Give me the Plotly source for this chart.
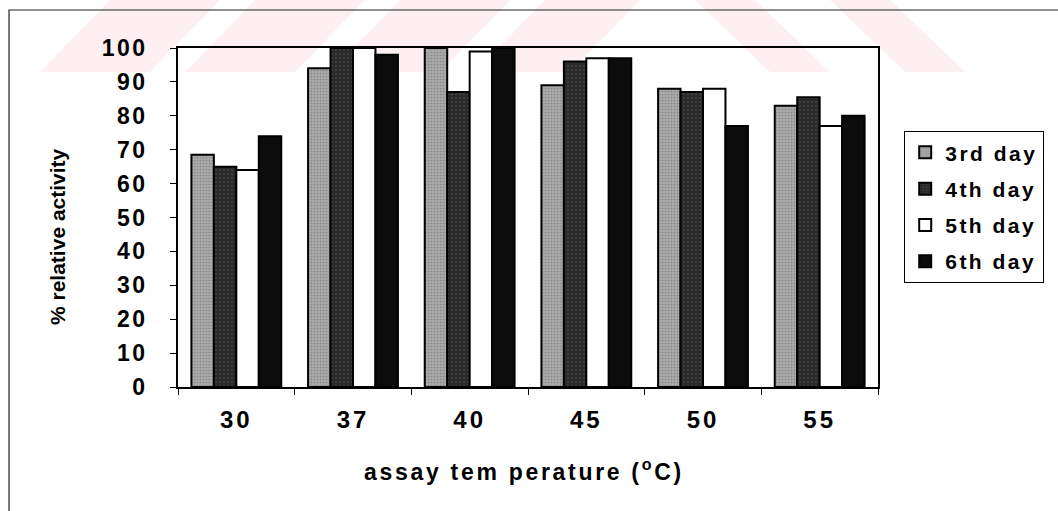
import plotly.graph_objects as go

# assay temperatures (°C) and % relative activity per harvest day
temperatures = ["30", "37", "40", "45", "50", "55"]
day3 = [68.5, 94, 100, 89, 88, 83]
day4 = [65, 100, 87, 96, 87, 85.5]
day5 = [64, 100, 99, 97, 88, 77]
day6 = [74, 98, 100, 97, 77, 80]
series_names = ["3rd day", "4th day", "5th day", "6th day"]
y_ticks = [0, 10, 20, 30, 40, 50, 60, 70, 80, 90, 100]
x_title = "assay tem perature (<sup>o</sup>C)"
y_title = "% relative activity"

W, H = 1058, 511
L, R, T, B = 178, 878, 48, 387  # plot area in pixels

def px(x):
    return (x - L) / (R - L)

def py(y):
    return (B - y) / (B - T)

def spaced(text, gap):
    return f'<span style="letter-spacing:{gap}px">{text}</span>'

FONT = "Liberation Sans, Arial, sans-serif"

styles = [
    dict(color="#a9a9a9", pattern=dict(shape=".", fgcolor="#666666", size=3, solidity=0.25)),
    dict(color="#2a2a2a", pattern=dict(shape=".", fgcolor="#777777", size=4, solidity=0.15)),
    dict(color="#ffffff"),
    dict(color="#0c0c0c"),
]

fig = go.Figure()
for name, vals, st in zip(series_names, [day3, day4, day5, day6], styles):
    fig.add_trace(go.Bar(
        x=temperatures, y=vals, name=spaced(name, 2.5), legendgroup=name,
        marker=dict(line=dict(color="#000000", width=2), **st),
    ))

shapes = []
# faint pink diagonal stripes along the top band
pink = "#fef0f2"
for x0, w in [(40, 110), (185, 110), (330, 110), (475, 95)]:
    shapes.append(dict(type="path", xref="paper", yref="paper", layer="below",
                       path=f"M {px(x0)} {py(72)} L {px(x0+w)} {py(72)} L {px(x0+w+70)} {py(0)} L {px(x0+70)} {py(0)} Z",
                       fillcolor=pink, line=dict(width=0)))
for x0, w in [(770, 60), (905, 60)]:
    shapes.append(dict(type="path", xref="paper", yref="paper", layer="below",
                       path=f"M {px(x0)} {py(72)} L {px(x0+w)} {py(72)} L {px(x0+w-75)} {py(0)} L {px(x0-75)} {py(0)} Z",
                       fillcolor=pink, line=dict(width=0)))
# outer chart border
shapes.append(dict(type="rect", xref="paper", yref="paper", layer="above",
                   x0=px(9), x1=px(1070), y0=py(530), y1=py(10),
                   line=dict(color="#222222", width=1.2), fillcolor="rgba(0,0,0,0)"))

annotations = [
    dict(text=spaced(x_title, 2.7), xref="paper", yref="paper", x=px(524), y=py(470),
         xanchor="center", yanchor="middle", showarrow=False,
         font=dict(family=FONT, size=23, weight="bold")),
    dict(text=y_title, xref="paper", yref="paper", x=px(57), y=py(237), textangle=-90,
         xanchor="center", yanchor="middle", showarrow=False,
         font=dict(family=FONT, size=21, weight="bold")),
]

fig.update_layout(
    width=W, height=H,
    margin=dict(l=L, r=W - R, t=T, b=H - B),
    paper_bgcolor="white", plot_bgcolor="rgba(0,0,0,0)",
    barmode="group", bargap=0.23, bargroupgap=0,
    font=dict(family=FONT, size=18, color="#000000", weight="bold"),
    showlegend=True,
    legend=dict(x=px(904), y=py(131), xanchor="left", yanchor="top",
                bordercolor="#000000", borderwidth=1.2, bgcolor="white",
                font=dict(family=FONT, size=21, weight="bold"),
                tracegroupgap=6, itemwidth=30),
    shapes=shapes,
    annotations=annotations,
    xaxis=dict(
        type="category", tickson="boundaries", ticks="outside", ticklen=6,
        tickcolor="#000000", showline=True, linecolor="#000000", linewidth=1.5,
        mirror=True, showgrid=False, ticklabelstandoff=10,
        tickvals=temperatures, ticktext=[spaced(t, 3) for t in temperatures],
        tickfont=dict(family=FONT, size=24, weight="bold"),
    ),
    yaxis=dict(
        range=[0, 100], tickvals=y_ticks, ticktext=[spaced(str(v), 2.5) for v in y_ticks],
        ticks="outside", ticklen=6,
        tickcolor="#000000", showline=True, linecolor="#000000", linewidth=1.5,
        mirror=True, showgrid=False, zeroline=False, ticklabelstandoff=18,
        tickfont=dict(family=FONT, size=23, weight="bold"),
    ),
)

fig.write_html("out.html")
